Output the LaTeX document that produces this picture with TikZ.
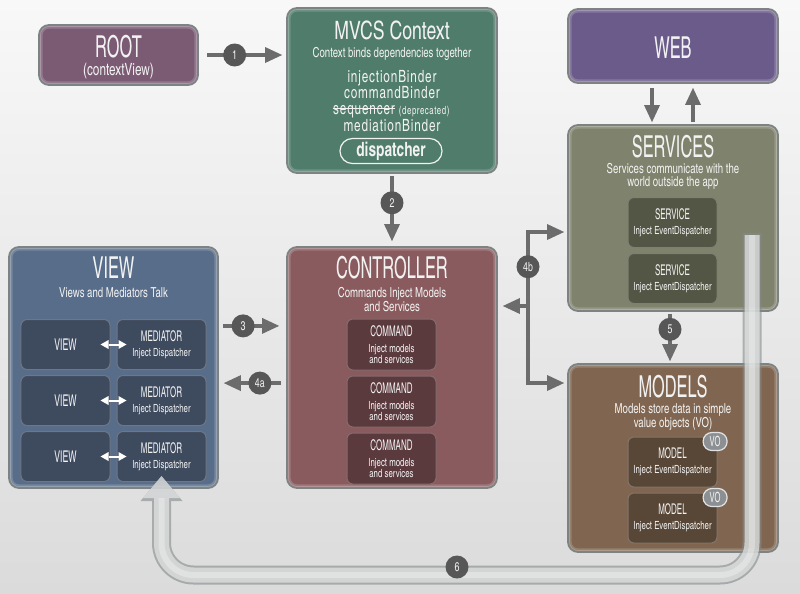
\documentclass[tikz,border=0pt]{standalone}
\usepackage{fontspec}
\usetikzlibrary{positioning,arrows.meta}

\newfontfamily\capsfnt{texgyreheroscn-regular.otf}[FakeStretch=0.66]
\newfontfamily\bodyfnt{texgyreheroscn-regular.otf}[FakeStretch=0.85,BoldFont=texgyreheroscn-bold.otf]
\newfontfamily\widefnt{texgyreheroscn-regular.otf}[FakeStretch=0.85,LetterSpace=5]

\definecolor{bgtop}{HTML}{F8F8F8}
\definecolor{bgbot}{HTML}{DBDBDB}
\definecolor{edge}{HTML}{7D8282}
\definecolor{rootc}{HTML}{7B5B74}
\definecolor{mvcsc}{HTML}{4F7C6B}
\definecolor{webc}{HTML}{6B5B8B}
\definecolor{svcc}{HTML}{7F826C}
\definecolor{svcin}{HTML}{535644}
\definecolor{viewc}{HTML}{586D89}
\definecolor{viewin}{HTML}{3E4A5D}
\definecolor{ctrlc}{HTML}{895B5E}
\definecolor{ctrlin}{HTML}{5B3A3E}
\definecolor{modc}{HTML}{806650}
\definecolor{modin}{HTML}{584737}
\definecolor{arrowc}{HTML}{6C6C6C}
\definecolor{numc}{HTML}{575757}
\definecolor{vogray}{HTML}{8C9092}
\definecolor{txt}{HTML}{F2F2F2}
\definecolor{tubeedge}{HTML}{858A8B}
\definecolor{tubefill}{HTML}{E4E6E6}

\begin{document}
\begin{tikzpicture}[x=0.25mm,y=-0.25mm,
    >={Triangle[length=4.25mm,width=4mm,line width=0pt]},
    panel/.style={draw=edge,line width=0.45mm,rounded corners=2.5mm,fill=#1,inner sep=0pt,
        path picture={
          \draw[white,opacity=.18,line width=1.8mm] (path picture bounding box.south west) rectangle (path picture bounding box.north east);
          \draw[white,opacity=.22,line width=0.9mm] (path picture bounding box.south west) rectangle (path picture bounding box.north east);
        }},
    cell/.style={draw=#1!75!white,line width=0.25mm,fill=#1,rounded corners=1.5mm,
        minimum width=22.25mm,minimum height=12.5mm,inner sep=0pt,align=center,
        text=txt,font=\bodyfnt\fontsize{8}{10.6}\selectfont},
    title/.style={text=txt,font=\capsfnt\fontsize{21.5}{22}\selectfont,inner sep=0pt,anchor=base},
    sub/.style={text=txt,font=\bodyfnt\fontsize{9.8}{9}\selectfont,align=center,inner sep=0pt,anchor=north},
    binder/.style={text=txt,font=\widefnt\fontsize{12}{12}\selectfont,inner sep=0pt,anchor=base},
    flow/.style={draw=arrowc,line width=1mm},
    num/.style={circle,fill=numc,minimum size=5.75mm,inner sep=0pt,text=txt,
        font=\bodyfnt\fontsize{9}{9}\selectfont},
    talk/.style={draw=white,line width=0.5mm,
        {Triangle[length=2mm,width=2.25mm,line width=0pt]}-{Triangle[length=2mm,width=2.25mm,line width=0pt]}},
    vo/.style={fill=vogray,draw=white!75!vogray,line width=0.3mm,rounded corners=2.2mm,
        minimum width=6mm,minimum height=4.5mm,inner sep=0pt,text=txt,
        font=\capsfnt\fontsize{10}{10}\selectfont},
    tube/.style={rounded corners=8mm}
  ]

  % background
  \shade[top color=bgtop,bottom color=bgbot] (0,0) rectangle (800,593);
  \useasboundingbox (0,0) rectangle (800,593);

  % panels
  \node[panel=rootc,minimum width=39.75mm,minimum height=15mm] (root) at (118.5,55) {};
  \node[panel=mvcsc,minimum width=52.5mm,minimum height=41.25mm] (mvcs) at (392,90.5) {};
  \node[panel=webc,minimum width=52.5mm,minimum height=18.5mm] (web) at (673,46) {};
  \node[panel=svcc,minimum width=52.5mm,minimum height=46.5mm] (services) at (673,218) {};
  \node[panel=viewc,minimum width=52.25mm,minimum height=60.25mm] (view) at (113.5,367.5) {};
  \node[panel=ctrlc,minimum width=52.5mm,minimum height=60.25mm] (controller) at (392,367.5) {};
  \node[panel=modc,minimum width=52.5mm,minimum height=47mm] (models) at (673,458) {};

  % root
  \node[title] (rootT) at (118.5,57) {ROOT};
  \node[sub,anchor=base,font=\bodyfnt\fontsize{12}{12}\selectfont] (rootS) at (118.5,75) {(contextView)};

  % context
  \node[title,font=\bodyfnt\fontsize{18}{18}\selectfont] (mvcsT) at (392,39) {MVCS Context};
  \node[sub] (mvcsS) at (392,47) {Context binds dependencies together};
  \node[binder] (injB) at (392,82) {injectionBinder};
  \node[binder] (cmdB) at (392,98) {commandBinder};
  \node[binder] (seqB) at (364,114) {sequencer};
  \node[binder,anchor=base west,font=\widefnt\fontsize{8}{8}\selectfont] (depB) at ([xshift=0.9mm]seqB.base east) {(deprecated)};
  \draw[txt,line width=0.3mm] ([yshift=1.3mm]seqB.base west) -- ([yshift=1.3mm]seqB.base east);
  \node[binder] (medB) at (392,131) {mediationBinder};
  \node[draw=txt,line width=0.3mm,rounded corners=3.1mm,minimum width=25.5mm,minimum height=6.25mm,
        inner sep=0pt,text=txt,font=\bodyfnt\bfseries\fontsize{14}{14}\selectfont] (disp) at (391,151) {dispatcher};

  % web
  \node[title] (webT) at (673,58) {WEB};

  % services
  \node[title] (svcT) at (673,157) {SERVICES};
  \node[sub] (svcS) at (673,163) {Services communicate with the\\world outside the app};
  \node[cell=svcin] (svc1) at (672.5,222.5) {{\capsfnt\fontsize{10.5}{10.5}\selectfont SERVICE}\\Inject EventDispatcher};
  \node[cell=svcin,below=1.25mm of svc1] (svc2) {{\capsfnt\fontsize{10.5}{10.5}\selectfont SERVICE}\\Inject EventDispatcher};

  % view
  \node[title] (viewT) at (113.5,278) {VIEW};
  \node[sub] (viewS) at (113.5,287) {Views and Mediators Talk};
  \node[cell=viewin,font=\capsfnt\fontsize{11.5}{11.5}\selectfont] (v1) at (65.5,344.5) {VIEW};
  \node[cell=viewin,right=1.5mm of v1] (m1) {{\capsfnt\fontsize{10.5}{10.5}\selectfont MEDIATOR}\\Inject Dispatcher};
  \node[cell=viewin,font=\capsfnt\fontsize{11.5}{11.5}\selectfont,below=1.25mm of v1] (v2) {VIEW};
  \node[cell=viewin,right=1.5mm of v2] (m2) {{\capsfnt\fontsize{10.5}{10.5}\selectfont MEDIATOR}\\Inject Dispatcher};
  \node[cell=viewin,font=\capsfnt\fontsize{11.5}{11.5}\selectfont,below=1.25mm of v2] (v3) {VIEW};
  \node[cell=viewin,right=1.5mm of v3] (m3) {{\capsfnt\fontsize{10.5}{10.5}\selectfont MEDIATOR}\\Inject Dispatcher};

  \draw[talk] ([xshift=-2.5mm]v1.east) -- ([xshift=2.5mm]m1.west);
  \draw[talk] ([xshift=-2.5mm]v2.east) -- ([xshift=2.5mm]m2.west);
  \draw[talk] ([xshift=-2.5mm]v3.east) -- ([xshift=2.5mm]m3.west);

  % controller
  \node[title] (ctrlT) at (392,278) {CONTROLLER};
  \node[sub] (ctrlS) at (392,287) {Commands Inject Models\\and Services};
  \node[cell=ctrlin,minimum height=12.75mm,font=\bodyfnt\fontsize{8}{7.6}\selectfont] (cmd1) at (391.5,344.5)
    {{\capsfnt\fontsize{10.5}{10.5}\selectfont COMMAND}\\[3.5pt]Inject models\\and services};
  \node[cell=ctrlin,minimum height=12.75mm,font=\bodyfnt\fontsize{8}{7.6}\selectfont,below=1.25mm of cmd1] (cmd2)
    {{\capsfnt\fontsize{10.5}{10.5}\selectfont COMMAND}\\[3.5pt]Inject models\\and services};
  \node[cell=ctrlin,minimum height=12.75mm,font=\bodyfnt\fontsize{8}{7.6}\selectfont,below=1.25mm of cmd2] (cmd3)
    {{\capsfnt\fontsize{10.5}{10.5}\selectfont COMMAND}\\[3.5pt]Inject models\\and services};

  % models
  \node[title] (modT) at (673,397) {MODELS};
  \node[sub] (modS) at (673,403) {Models store data in simple\\value objects (VO)};
  \node[cell=modin] (mod1) at (672.5,462) {{\capsfnt\fontsize{10.5}{10.5}\selectfont MODEL}\\Inject EventDispatcher};
  \node[cell=modin,below=1.25mm of mod1] (mod2) {{\capsfnt\fontsize{10.5}{10.5}\selectfont MODEL}\\Inject EventDispatcher};
  \node[vo] (vo1) at ([xshift=-0.6mm,yshift=-1.25mm]mod1.north east) {VO};
  \node[vo] (vo2) at ([xshift=-0.6mm,yshift=-1.25mm]mod2.north east) {VO};

  % flows
  \draw[flow,->,shorten <=2.1mm,shorten >=1mm] (root.east) -- node[num,pos=0.41] (n1) {1} (root.east -| mvcs.west);
  \draw[flow,->,shorten <=0.5mm,shorten >=1.25mm] (mvcs.south) -- node[num,pos=0.4] (n2) {2} (controller.north);
  \draw[flow,->,shorten <=1mm,shorten >=0.5mm] ([xshift=-5.25mm]web.south) -- ([xshift=-5.25mm]services.north);
  \draw[flow,->,shorten <=0.5mm,shorten >=1mm] ([xshift=5mm]services.north) -- ([xshift=5mm]web.south);
  \draw[flow,->,shorten <=1mm,shorten >=1.75mm] ([yshift=10.4mm]view.east) -- node[num,pos=0.36] (n3) {3} ([yshift=10.4mm]controller.west);
  \draw[flow,->,shorten <=1.25mm,shorten >=1.25mm] ([yshift=-3.9mm]controller.west) -- node[num,pos=0.39] (n4a) {4a} ([yshift=-3.9mm]view.east);

  \coordinate (busTop) at (528,232);
  \coordinate (bus) at (528,306);
  \coordinate (busBot) at (528,383);
  \draw[flow,<->,shorten <=0.75mm,shorten >=0.75mm] (busTop -| services.west) -- (busTop) -- node[num,pos=0.23] (n4b) {4b} (busBot) -- (busBot -| models.west);
  \draw[flow,->,shorten >=1.25mm] (bus) -- (bus -| controller.east);

  \draw[flow,->,shorten <=0.5mm,shorten >=0.5mm] ([xshift=-0.75mm]services.south) -- node[num,pos=0.34] (n5) {5} ([xshift=-0.75mm]models.north);

  % update view
  \coordinate (feed) at (752,233);
  \coordinate (low) at (457,575);
  \draw[tube,draw=tubeedge,opacity=.6,line width=4.75mm,-{Triangle[width=10.5mm,length=6.25mm,line width=0pt]}]
    (feed) -- (feed |- low) -- (m3 |- low) -- ([yshift=1.5mm]m3.south);
  \draw[tube,draw=tubefill,opacity=.72,line width=3.75mm,shorten <=0.5mm,-{Triangle[width=9.25mm,length=5.5mm,line width=0pt]}]
    (feed) -- (feed |- low) -- (m3 |- low) -- ([yshift=1.5mm]m3.south);
  \draw[tube,draw=white,opacity=.3,line width=1.5mm,shorten <=0.5mm,shorten >=5.5mm]
    (feed) -- (feed |- low) -- (m3 |- low) -- ([yshift=1.5mm]m3.south);
  \node[num] (n6) at (457,567) {6};

\end{tikzpicture}
\end{document}
